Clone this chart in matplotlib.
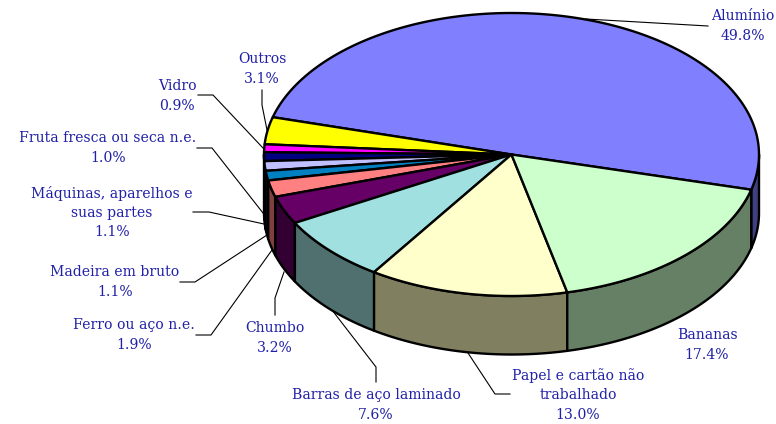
import numpy as np
import matplotlib
matplotlib.use("Agg")
import matplotlib.pyplot as plt
from matplotlib.patches import Polygon

# values in drawing order, counter clockwise from the first cut
names = ["Alumínio", "Outros", "Vidro", "Fruta fresca ou seca n.e.",
         "Máquinas, aparelhos e\nsuas partes", "Madeira em bruto",
         "Ferro ou aço n.e.", "Chumbo", "Barras de aço laminado",
         "Papel e cartão não\ntrabalhado", "Bananas"]
values = [49.8, 3.1, 0.9, 1.0, 1.1, 1.1, 1.9, 3.2, 7.6, 13.0, 17.4]
top_colors = ["#8080FF", "#FFFF00", "#FF00FF", "#000080", "#C0C0FF", "#0080C0",
              "#FF8080", "#660066", "#A0E0E0", "#FFFFCC", "#CCFFCC"]
side_colors = ["#404080", "#808000", "#800080", "#000040", "#606080", "#004060",
               "#804040", "#330033", "#507070", "#808060", "#668066"]

# label centre and leader line, in pixels
label_pos = [(743, 26), (262, 69), (177, 96), (108, 148), (112, 212.5),
             (115, 282), (134, 335), (275, 338), (376, 405), (578, 395),
             (707, 345)]
leaders = [[(708, 26), (586, 19)],
           [(262, 90), (262, 105), (267, 130)],
           [(198, 95), (213, 95), (263, 148)],
           [(197, 148), (212, 148), (263, 213)],
           [(193, 212), (209, 212), (264, 224)],
           [(180, 282), (195, 282), (267, 235)],
           [(196, 335), (211, 335), (272, 250)],
           [(275, 315), (275, 298), (284, 272)],
           [(376, 382), (376, 367), (332, 310)],
           [(510, 394), (495, 394), (468, 353)],
           None]

cx, cy, rx, ry, depth = 511.5, 154.5, 247.5, 141.5, 58.5
start = -14.4

fig = plt.figure(figsize=(7.76, 4.24), dpi=100)
ax = fig.add_axes([0, 0, 1, 1])
ax.set_xlim(0, 776)
ax.set_ylim(424, 0)
ax.axis("off")


def rim(t, dy=0):
    t = np.radians(t)
    return np.column_stack([cx + rx * np.cos(t), cy - ry * np.sin(t) + dy])


shares = np.array(values) / sum(values) * 360
edges = start + np.concatenate([[0], np.cumsum(shares)])

# side walls, only the front half of the rim shows
for i in range(len(values)):
    t0, t1 = edges[i], edges[i + 1]
    for lo, hi in [(t0, min(t1, 0)), (max(t0, 180), t1)]:
        if hi <= lo:
            continue
        t = np.linspace(lo, hi, 80)
        pts = np.vstack([rim(t), rim(t, depth)[::-1]])
        ax.add_patch(Polygon(pts, closed=True, fc=side_colors[i], ec="black",
                             lw=1.7, joinstyle="round", zorder=2))

# top face
for i in range(len(values)):
    t = np.linspace(edges[i], edges[i + 1], 200)
    pts = np.vstack([[(cx, cy)], rim(t)])
    ax.add_patch(Polygon(pts, closed=True, fc=top_colors[i], ec="black",
                         lw=1.7, joinstyle="round", zorder=3))

for line in leaders:
    if line is not None:
        xs, ys = zip(*line)
        ax.plot(xs, ys, color="black", lw=0.8, zorder=1)

for name, v, (x, y) in zip(names, values, label_pos):
    ax.text(x, y, f"{name}\n{v:.1f}%", ha="center", va="center", color="#2020A8",
            family="DejaVu Serif", fontsize=10.1, linespacing=1.47, zorder=4)

fig.savefig("out.png", dpi=100)
